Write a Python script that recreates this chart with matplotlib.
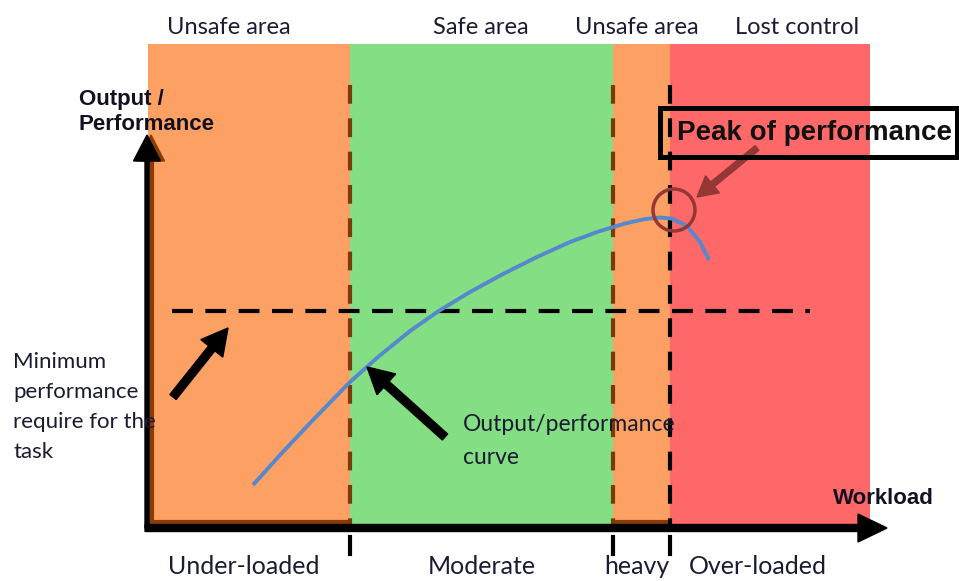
import matplotlib.pyplot as plt
from matplotlib.patches import Rectangle, Circle

# Diagram coordinates (x = workload, y = drawn downwards like the source image)
ZONE_EDGES = [148, 350, 613, 670, 870]
ZONE_COLORS = ['#FDA063', '#84DE83', '#FDA063', '#FF6868']
TOP_LABELS = ['Unsafe area', 'Safe area', 'Unsafe area', 'Lost control']
TOP_CENTERS = [229, 481, 637, 797]
BOTTOM_LABELS = ['Under-loaded', 'Moderate', 'heavy', 'Over-loaded']
BOTTOM_CENTERS = [244, 482, 637, 758]
DIVIDER_X = [350, 613, 670]
DIVIDER_COLORS = ['#7a3a0a', '#7a3a0a', '#000000']

# Output / performance curve
CURVE_X = [253, 280, 312, 350, 378, 410, 438, 470, 503, 537, 570, 600,
           625, 645, 660, 672, 687, 700, 709]
CURVE_Y = [485, 455, 421, 382, 357, 331, 311.5, 292, 274, 257, 242, 231,
           223.5, 219, 217.5, 218.7, 226, 242, 260]

MIN_PERF_Y = 311
MIN_PERF_X = [172, 810]
PEAK = (674, 210)

BAND_TOP, BAND_BOTTOM = 44, 524
AXIS_Y = 528

TEXT_COLOR = '#1b1b33'
CALIBRI_LIKE = ['Lato', 'DejaVu Sans']
ARIAL_LIKE = ['Liberation Sans', 'DejaVu Sans']

fig = plt.figure(figsize=(9.59, 5.81), dpi=100)
ax = fig.add_axes([0, 0, 1, 1])
ax.set_xlim(0, 959)
ax.set_ylim(581, 0)
ax.axis('off')

# white fill of the "Peak of performance" box (sits under the bands)
ax.add_patch(Rectangle((660, 108), 297, 49, facecolor='white', edgecolor='none', zorder=0))

# coloured zones
for i, c in enumerate(ZONE_COLORS):
    x0, x1 = ZONE_EDGES[i], ZONE_EDGES[i + 1]
    ax.add_patch(Rectangle((x0, BAND_TOP), x1 - x0, BAND_BOTTOM - BAND_TOP,
                           facecolor=c, edgecolor='none', zorder=1))
for label, xc in zip(TOP_LABELS, TOP_CENTERS):
    ax.text(xc, 27, label, ha='center', va='center',
            fontsize=17, color=TEXT_COLOR, family=CALIBRI_LIKE)

# brown shadow under the orange zones
for i in (0, 2):
    ax.plot([ZONE_EDGES[i], ZONE_EDGES[i + 1]], [BAND_BOTTOM - 2, BAND_BOTTOM - 2],
            color='#8a3c08', lw=3, zorder=2, solid_capstyle='butt')
ax.plot([152, 152], [BAND_BOTTOM, 160], color='#8a3c08', lw=3, zorder=2)

# vertical dividers and little ticks under the axis
for x, c in zip(DIVIDER_X, DIVIDER_COLORS):
    ax.plot([x, x], [85, BAND_BOTTOM], color=c, lw=3, dashes=(4.5, 3.5), zorder=3)
    ax.plot([x, x], [537, 554], color='black', lw=3, zorder=3)

# minimum performance line
ax.plot(MIN_PERF_X, [MIN_PERF_Y, MIN_PERF_Y], color='black', lw=3,
        dashes=(5, 3), zorder=3)

# performance curve
ax.plot(CURVE_X, CURVE_Y, color='#5588cc', lw=2.8, zorder=4,
        solid_capstyle='butt', solid_joinstyle='round')

# axes arrows
ax.arrow(151, AXIS_Y, 0, 135 - AXIS_Y, width=4, head_width=27, head_length=26,
         length_includes_head=True, color='#8a3c08', zorder=4)
ax.arrow(147, AXIS_Y, 0, 135 - AXIS_Y, width=4, head_width=27, head_length=26,
         length_includes_head=True, color='black', zorder=5)
ax.arrow(145, AXIS_Y, 887 - 145, 0, width=7, head_width=28, head_length=29,
         length_includes_head=True, color='black', zorder=5)

# pointer arrows
ax.arrow(173, 397, 228 - 173, 328 - 397, width=8, head_width=28, head_length=26,
         length_includes_head=True, color='black', zorder=6)
ax.arrow(445, 437, 367 - 445, 367 - 437, width=8, head_width=28, head_length=26,
         length_includes_head=True, color='black', zorder=6)
ax.arrow(757, 148, 697 - 757, 197 - 148, width=6, head_width=22, head_length=20,
         length_includes_head=True, color='#953735', zorder=6)

# peak circle
ax.add_patch(Circle(PEAK, 21, fill=False, edgecolor='#953735', lw=2.5, zorder=6))

# peak box outline and label
ax.add_patch(Rectangle((660, 108), 297, 49, facecolor='none', edgecolor='black',
                       lw=3.6, zorder=7))
ax.text(677, 133, 'Peak of performance', ha='left', va='center', fontsize=20,
        fontweight='bold', color='#111111', family=ARIAL_LIKE, zorder=8)

# axis titles
ax.text(79, 112, 'Output /\nPerformance', ha='left', va='center', fontsize=16,
        fontweight='bold', linespacing=1.3, color='#111122', family=ARIAL_LIKE, zorder=8)
ax.text(833, 498, 'Workload', ha='left', va='center', fontsize=16,
        fontweight='bold', color='#111122', family=ARIAL_LIKE, zorder=8)

# annotations
ax.text(13, 407, 'Minimum\nperformance\nrequire for the\ntask', ha='left',
        va='center', fontsize=16, linespacing=1.62, color=TEXT_COLOR,
        family=CALIBRI_LIKE, zorder=8)
ax.text(463, 441, 'Output/performance\ncurve', ha='left', va='center',
        fontsize=16.5, linespacing=1.66, color=TEXT_COLOR, family=CALIBRI_LIKE, zorder=8)

# zone names under the axis
for label, xc in zip(BOTTOM_LABELS, BOTTOM_CENTERS):
    ax.text(xc, 566, label, ha='center', va='center', fontsize=18,
            color=TEXT_COLOR, family=CALIBRI_LIKE)

fig.savefig('out.png', dpi=100)
